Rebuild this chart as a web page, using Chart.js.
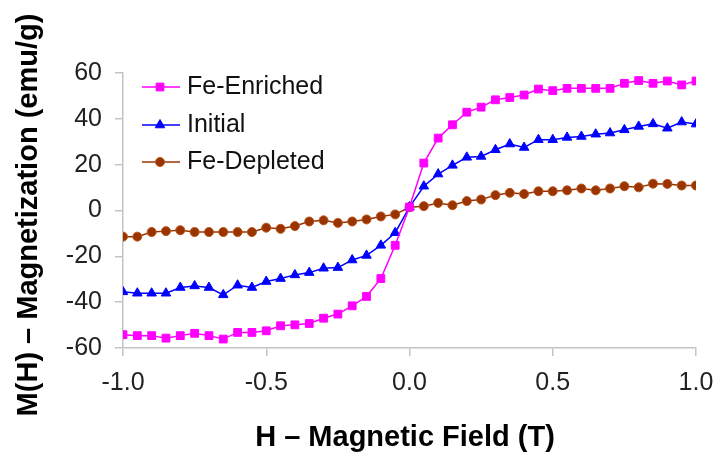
<!DOCTYPE html>
<html lang="en">
<head>
    <meta charset="UTF-8">
    <title>Magnetization vs Field</title>
    <script src="https://cdn.jsdelivr.net/npm/chart.js"></script>
    <style>
        html, body { margin: 0; padding: 0; background: #fff; }
        #wrap { width: 718px; height: 457px; }
    </style>
</head>
<body>
<div id="wrap"><canvas id="mhChart" width="718" height="457"></canvas></div>

<script>
    // field values (T), -1.0 .. 1.0 in 0.05 steps
    const field = [-1.0, -0.95, -0.9, -0.85, -0.8, -0.75, -0.7, -0.65, -0.6, -0.55, -0.5,
        -0.45, -0.4, -0.35, -0.3, -0.25, -0.2, -0.15, -0.1, -0.05, 0.0,
        0.05, 0.1, 0.15, 0.2, 0.25, 0.3, 0.35, 0.4, 0.45, 0.5,
        0.55, 0.6, 0.65, 0.7, 0.75, 0.8, 0.85, 0.9, 0.95, 1.0];

    const feEnriched = [-54.2, -54.6, -54.6, -55.7, -54.6, -53.6, -54.6, -56.1, -53.2, -53.2, -52.5,
        -50.3, -49.9, -49.3, -47.0, -45.2, -41.6, -37.5, -29.7, -15.2, 1.5,
        20.7, 31.6, 37.4, 42.9, 45.1, 48.3, 49.3, 50.4, 53.0, 52.3,
        53.3, 53.3, 53.3, 53.3, 55.5, 56.7, 55.5, 56.5, 54.8, 56.5];

    const initial = [-35.5, -36.1, -36.1, -36.1, -33.6, -32.9, -33.6, -36.8, -32.6, -33.6, -31.0,
        -29.7, -28.1, -27.1, -25.2, -24.9, -21.6, -19.6, -15.2, -9.7, 1.5,
        10.6, 15.9, 19.7, 23.2, 23.6, 26.5, 29.0, 27.5, 30.9, 30.9,
        31.9, 32.3, 33.3, 33.8, 35.2, 36.7, 37.8, 35.9, 38.6, 37.7];

    const feDepleted = [-11.4, -11.4, -9.4, -9.0, -8.6, -9.4, -9.4, -9.4, -9.4, -9.4, -7.5,
        -8.0, -6.8, -4.8, -4.3, -5.4, -4.8, -3.9, -2.6, -1.7, 1.4,
        1.9, 3.3, 2.3, 4.1, 4.8, 6.7, 7.7, 7.2, 8.4, 8.4,
        8.8, 9.6, 8.8, 9.6, 10.6, 10.1, 11.7, 11.6, 10.9, 10.9];

    const seriesNames = ['Fe-Enriched', 'Initial', 'Fe-Depleted'];
    const xTitle = 'H \u2013 Magnetic Field (T)';
    const yTitle = 'M(H) \u2013 Magnetization (emu/g)';

    function toPoints(ys) {
        return field.map((x, i) => ({ x: x, y: ys[i] }));
    }

    const axisGray = '#c4c4c4';
    const tickFont = { family: 'Arial, "Liberation Sans", sans-serif', size: 25 };

    // legend and axis titles drawn by hand so they sit where the original has them
    const decorations = {
        id: 'decorations',
        afterDraw(chart) {
            const ctx = chart.ctx;
            ctx.save();
            ctx.fillStyle = '#000';
            ctx.font = 'bold 29px Arial, "Liberation Sans", sans-serif';
            ctx.textAlign = 'center';
            ctx.textBaseline = 'middle';
            ctx.fillText(xTitle, 405, 438);
            ctx.translate(29, 215);
            ctx.rotate(-Math.PI / 2);
            ctx.fillText(yTitle, 0, 0);
            ctx.restore();

            ctx.save();
            ctx.font = '25px Arial, "Liberation Sans", sans-serif';
            ctx.textBaseline = 'middle';
            ctx.textAlign = 'left';
            const rows = [87, 125, 162];
            chart.data.datasets.forEach((ds, i) => {
                const y = rows[i];
                ctx.strokeStyle = ds.borderColor;
                ctx.lineWidth = 1.5;
                ctx.beginPath();
                ctx.moveTo(142, y);
                ctx.lineTo(180, y);
                ctx.stroke();
                ctx.fillStyle = ds.pointBackgroundColor;
                ctx.strokeStyle = ds.pointBorderColor;
                ctx.lineWidth = 1;
                Chart.helpers.drawPoint(ctx, {
                    pointStyle: ds.pointStyle,
                    radius: ds.pointRadius,
                    rotation: 0,
                    borderWidth: 1
                }, 160, y);
                ctx.fillStyle = '#111';
                ctx.fillText(ds.label, 187, y);
            });
            ctx.restore();
        }
    };

    const ctx = document.getElementById('mhChart').getContext('2d');

    new Chart(ctx, {
        type: 'line',
        data: {
            datasets: [
                {
                    label: seriesNames[0],
                    data: toPoints(feEnriched),
                    borderColor: '#ff00ff',
                    borderWidth: 1.5,
                    pointStyle: 'rect',
                    pointRadius: 5.5,
                    pointBackgroundColor: '#ff00ff',
                    pointBorderColor: '#ff00ff',
                    pointBorderWidth: 1
                },
                {
                    label: seriesNames[1],
                    data: toPoints(initial),
                    borderColor: '#0000ff',
                    borderWidth: 1.5,
                    pointStyle: 'triangle',
                    pointRadius: 5.5,
                    pointBackgroundColor: '#0000ff',
                    pointBorderColor: '#0000ff',
                    pointBorderWidth: 1
                },
                {
                    label: seriesNames[2],
                    data: toPoints(feDepleted),
                    borderColor: '#993300',
                    borderWidth: 1.5,
                    pointStyle: 'circle',
                    pointRadius: 4.5,
                    pointBackgroundColor: '#993300',
                    pointBorderColor: '#b8541a',
                    pointBorderWidth: 1
                }
            ]
        },
        options: {
            responsive: false,
            animation: false,
            layout: { padding: { left: 0, top: 73, right: 22, bottom: 0 } },
            plugins: {
                legend: { display: false },
                tooltip: { enabled: false }
            },
            scales: {
                x: {
                    type: 'linear',
                    min: -1,
                    max: 1,
                    afterFit(scale) {
                        scale.height = 109;
                        // label overhang is already covered by the layout padding
                        scale.paddingLeft = 0;
                        scale.paddingRight = 0;
                    },
                    ticks: {
                        stepSize: 0.5,
                        font: tickFont,
                        color: '#222',
                        padding: 12,
                        maxRotation: 0,
                        callback: v => v.toFixed(1)
                    },
                    grid: { drawOnChartArea: false, drawTicks: true, tickLength: 8, color: axisGray, lineWidth: 1.5 },
                    border: { display: true, color: axisGray, width: 1.5 }
                },
                y: {
                    min: -60,
                    max: 60,
                    afterFit(scale) { scale.width = 123; },
                    ticks: {
                        stepSize: 20,
                        font: tickFont,
                        color: '#222',
                        padding: 13,
                        callback: v => String(v)
                    },
                    grid: { drawOnChartArea: false, drawTicks: true, tickLength: 8, color: axisGray, lineWidth: 1.5 },
                    border: { display: true, color: axisGray, width: 1.5 }
                }
            }
        },
        plugins: [decorations]
    });
</script>
</body>
</html>
